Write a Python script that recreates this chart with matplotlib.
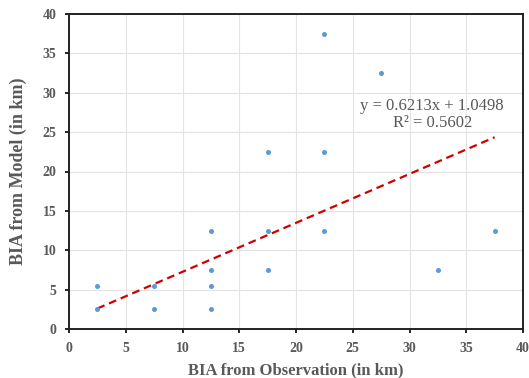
import matplotlib
matplotlib.use("Agg")
import matplotlib.pyplot as plt
import numpy as np

obs = [2.5, 2.5, 7.5, 7.5, 12.5, 12.5, 12.5, 12.5, 17.5, 17.5, 17.5, 22.5, 22.5, 22.5, 27.5, 32.5, 37.5]
model = [5.5, 2.5, 5.5, 2.5, 12.5, 7.5, 5.5, 2.5, 22.5, 12.5, 7.5, 37.5, 22.5, 12.5, 32.5, 7.5, 12.5]
slope = 0.6213
intercept = 1.0498
r2 = 0.5602
ticks = [0, 5, 10, 15, 20, 25, 30, 35, 40]

plt.rcParams['font.family'] = ['Liberation Serif', 'DejaVu Serif']
grey = '#595959'

fig = plt.figure(figsize=(5.29, 3.78), dpi=100)
ax = fig.add_axes([69/529, 1-329/378, (523-69)/529, (329-14)/378])

ax.scatter(obs, model, s=13, color='#5B9BD5', zorder=3, linewidths=0)
xl = np.array([min(obs), max(obs)])
ax.plot(xl, slope*xl + intercept, color='#D00000', lw=1.6, ls=(0, (3.5, 2.2)), zorder=2)

ax.text(32.0, 27.2, f"y = {slope:.4f}x + {intercept:.4f}\nR² = {r2:.4f}", ha='center', va='center',
        color=grey, fontsize=12, linespacing=1.1)

ax.set_xlim(0, 40)
ax.set_ylim(0, 40)
ax.set_xticks(ticks)
ax.set_yticks(ticks)
ax.grid(True, color='#E3E3E3', lw=0.8)
ax.set_axisbelow(True)
for s in ['top', 'right', 'left', 'bottom']:
    ax.spines[s].set_linewidth(1.4)
    ax.spines[s].set_color('#222222')
ax.tick_params(direction='out', length=3, width=1.2, labelsize=10, labelcolor=grey, pad=6)
for lab in ax.get_xticklabels() + ax.get_yticklabels():
    lab.set_fontweight('bold')
ax.set_xlabel('BIA from Observation (in km)', fontsize=12, fontweight='bold', color=grey, labelpad=6)
ax.set_ylabel('BIA from Model (in km)', fontsize=13, fontweight='bold', color=grey, labelpad=11)

fig.savefig('out.png', dpi=100)
